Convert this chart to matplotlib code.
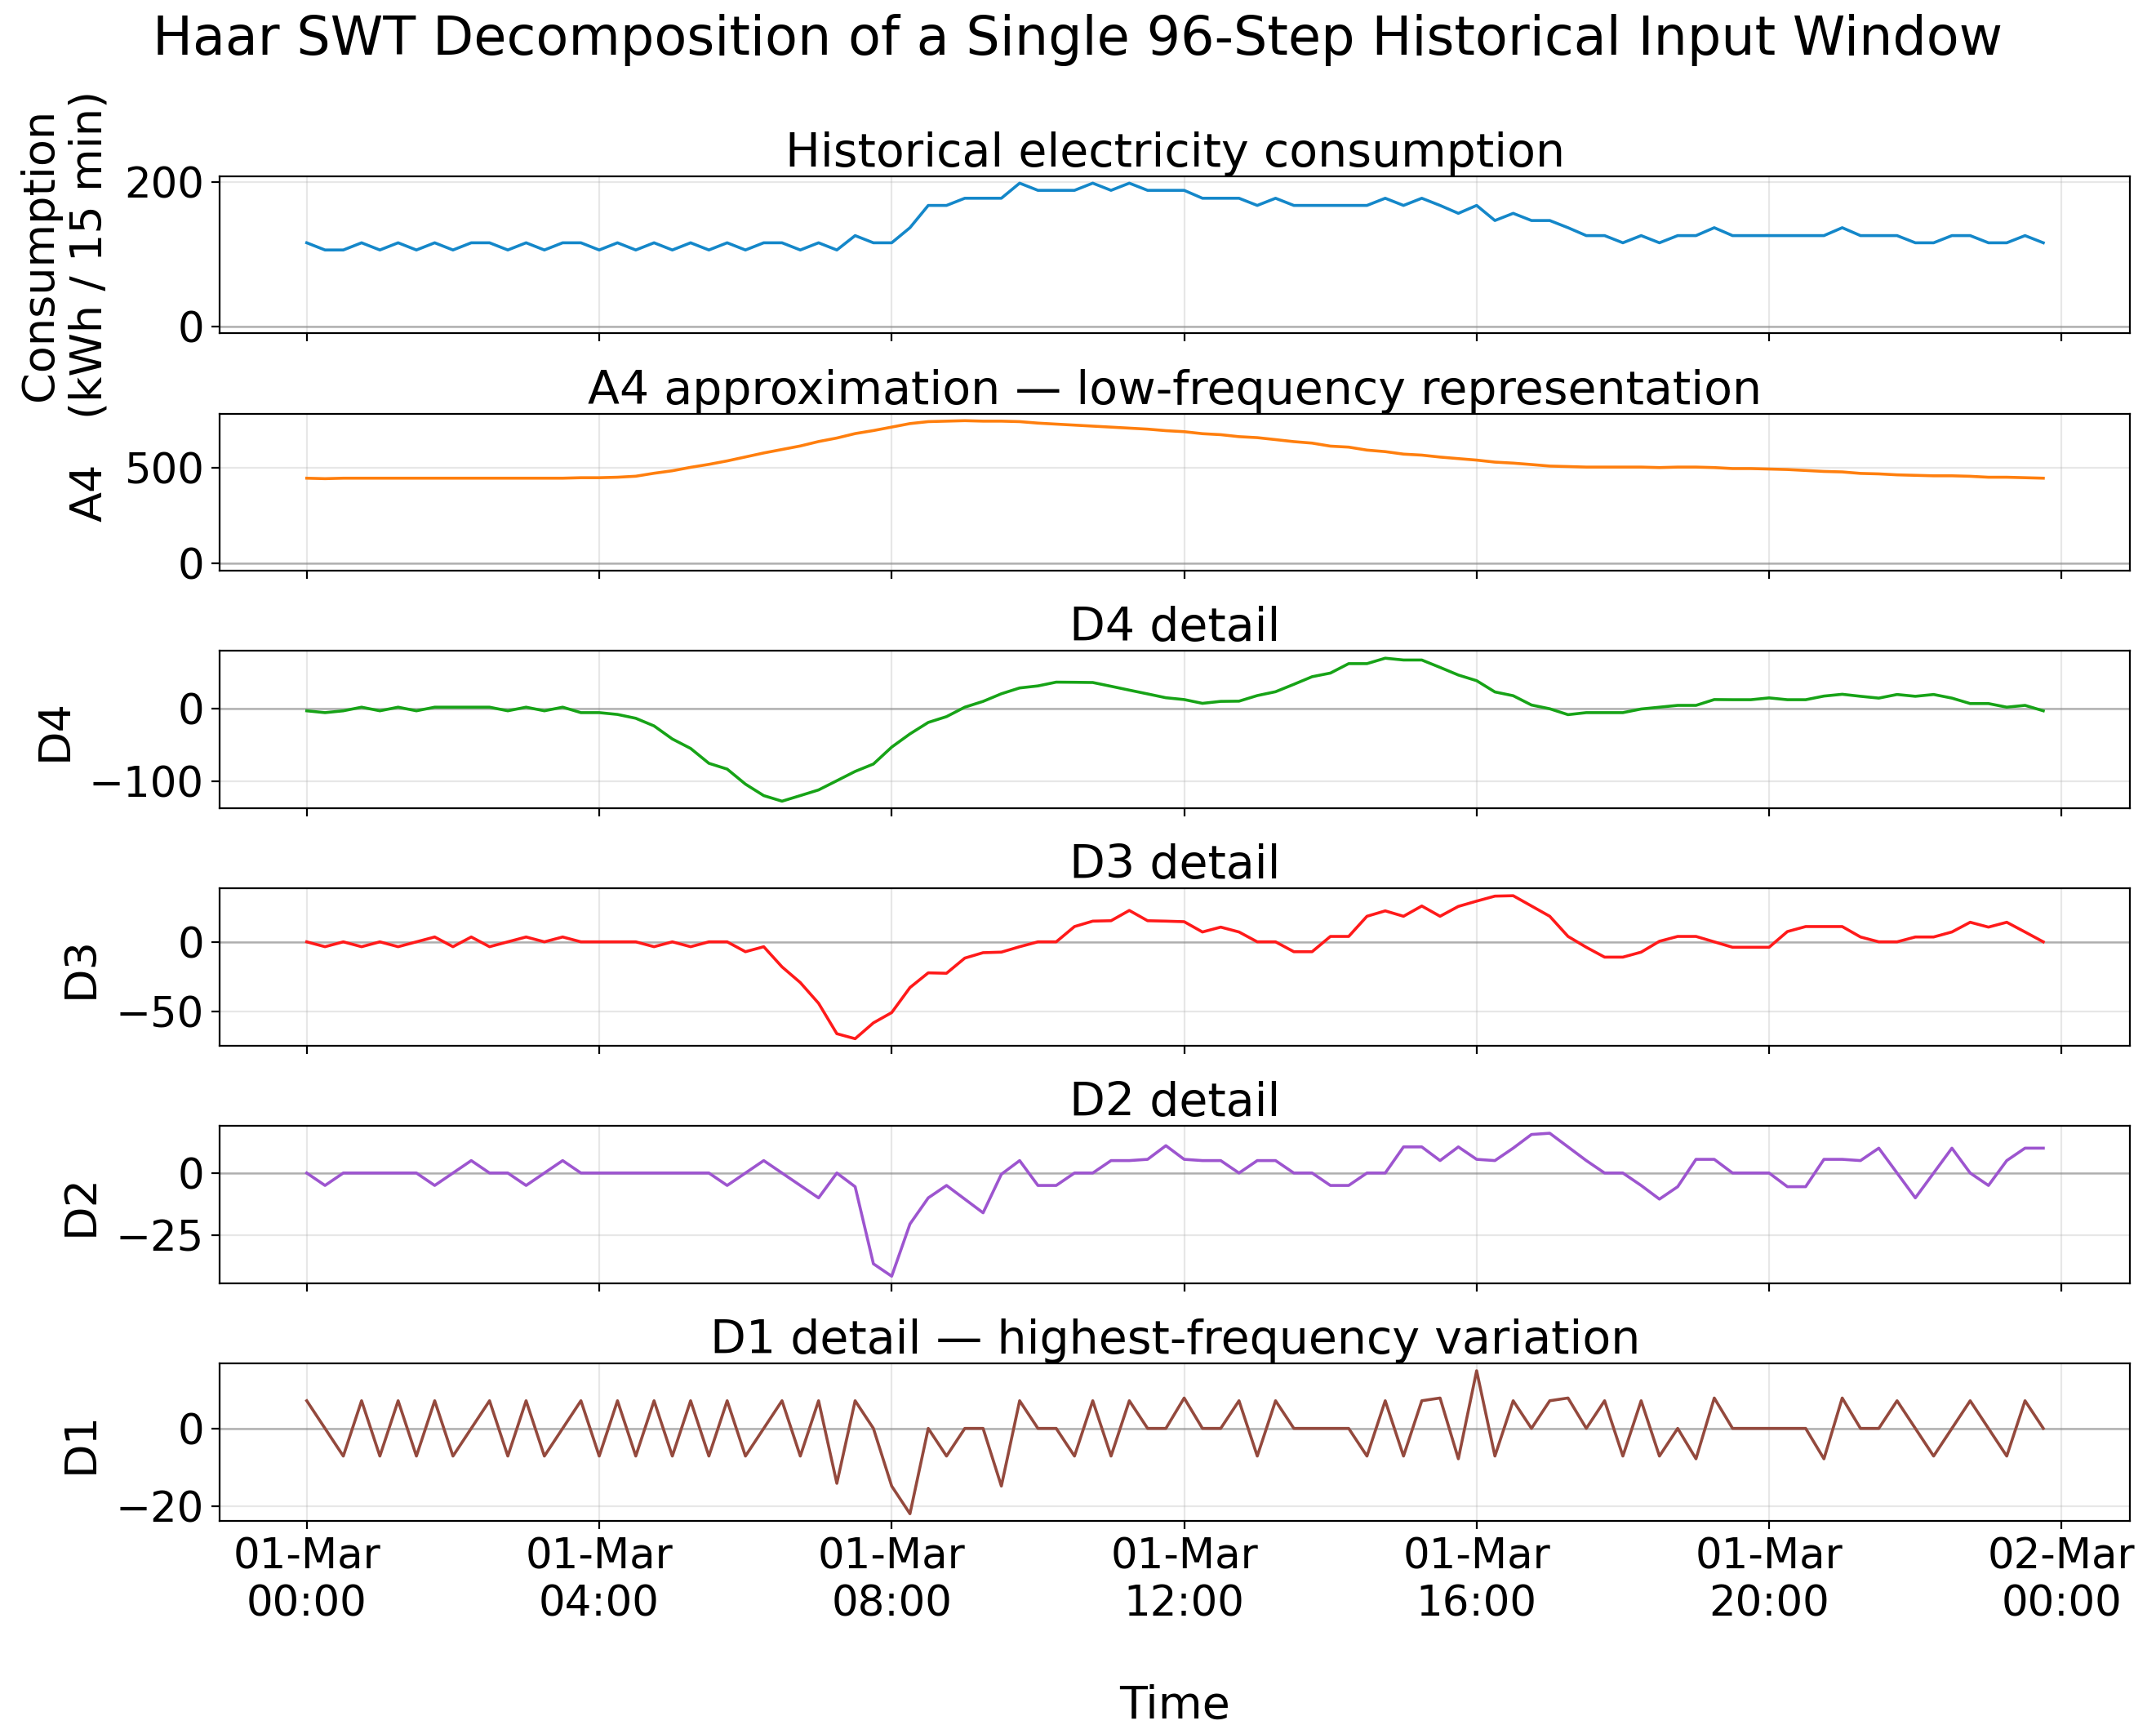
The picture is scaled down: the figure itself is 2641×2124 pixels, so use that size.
import numpy as np
import pandas as pd
import matplotlib
matplotlib.use("Agg")
import matplotlib.pyplot as plt
import matplotlib.dates as mdates

# 96 quarter-hour steps of 01-Mar
times = pd.date_range("2024-03-01 00:00", periods=96, freq="15min")

consumption = [
    116, 106, 106, 116, 106, 116, 106, 116, 106, 116,
    116, 106, 116, 106, 116, 116, 106, 116, 106, 116,
    106, 116, 106, 116, 106, 116, 116, 106, 116, 106,
    126, 116, 116, 137, 168, 168, 178, 178, 178, 199,
    189, 189, 189, 199, 189, 199, 189, 189, 189, 178,
    178, 178, 168, 178, 168, 168, 168, 168, 168, 178,
    168, 178, 168, 157, 168, 147, 157, 147, 147, 137,
    126, 126, 116, 126, 116, 126, 126, 137, 126, 126,
    126, 126, 126, 126, 137, 126, 126, 126, 116, 116,
    126, 126, 116, 116, 126, 116]

a4 = [
    446.5, 444.0, 446.5, 446.5, 446.5, 446.5, 446.5, 446.5, 446.5, 446.5,
    446.5, 446.5, 446.5, 446.5, 446.5, 449.0, 449.0, 451.5, 456.8, 472.3,
    485.3, 503.3, 518.8, 536.8, 557.5, 578.3, 596.5, 614.8, 638.0, 656.3,
    679.5, 695.3, 713.5, 731.8, 742.0, 744.5, 747.0, 744.5, 744.5, 742.0,
    734.3, 729.0, 723.8, 718.5, 713.3, 708.0, 702.8, 694.8, 689.5, 679.0,
    673.8, 663.5, 658.3, 648.0, 637.5, 629.8, 614.0, 608.8, 593.3, 585.3,
    572.3, 567.0, 556.8, 548.8, 541.0, 530.5, 525.3, 517.8, 509.8, 507.3,
    504.5, 504.5, 504.5, 504.5, 502.0, 504.5, 504.5, 502.0, 496.8, 496.8,
    494.3, 491.8, 486.8, 481.8, 479.3, 471.5, 469.0, 464.0, 461.5, 459.0,
    459.0, 456.5, 451.5, 451.5, 449.0, 446.5]

d4 = [
    -2.5, -5.0, -2.5, 2.5, -2.5, 2.5, -2.5, 2.5, 2.5, 2.5,
    2.5, -2.5, 2.5, -2.5, 2.5, -5.0, -5.0, -7.5, -12.8, -23.3,
    -41.3, -54.3, -74.8, -82.8, -103.5, -119.3, -127.0, -119.3, -111.5, -98.8,
    -86.0, -75.8, -52.5, -34.3, -18.5, -10.5, 2.5, 10.5, 21.0, 29.0,
    31.8, 37.0, 36.8, 36.5, 31.3, 26.0, 20.8, 15.5, 13.0, 7.8,
    10.5, 10.8, 18.5, 23.8, 34.0, 44.5, 49.5, 62.5, 62.5, 70.0,
    67.5, 67.5, 57.3, 46.8, 39.0, 23.5, 18.3, 5.5, 0.3, -7.8,
    -5.0, -5.0, -5.0, 0.0, 2.5, 5.0, 5.0, 13.0, 12.8, 12.8,
    15.3, 12.8, 12.8, 17.8, 20.3, 17.5, 15.0, 20.0, 17.5, 20.0,
    15.0, 7.5, 7.5, 2.5, 5.0, -2.5]

d3 = [
    0.0, -3.5, 0.0, -3.5, 0.0, -3.5, 0.0, 3.5, -3.5, 3.5,
    -3.5, 0.0, 3.5, 0.0, 3.5, 0.0, 0.0, 0.0, 0.0, -3.5,
    0.0, -3.5, 0.0, 0.0, -7.1, -3.5, -18.0, -29.3, -44.2, -66.1,
    -69.7, -58.3, -50.9, -32.9, -22.3, -22.6, -11.7, -7.8, -7.4, -3.5,
    0.0, 0.0, 11.0, 14.9, 15.2, 22.6, 15.2, 14.9, 14.5, 7.1,
    10.6, 7.1, 0.0, 0.0, -7.1, -7.1, 3.9, 3.9, 18.4, 22.3,
    18.4, 25.8, 18.4, 25.5, 29.3, 32.9, 33.2, 25.8, 18.4, 3.9,
    -3.9, -11.0, -11.0, -7.4, 0.4, 3.9, 3.9, 0.0, -3.9, -3.9,
    -3.9, 7.4, 11.0, 11.0, 11.0, 3.5, 0.0, 0.0, 3.5, 3.5,
    7.1, 14.1, 10.6, 14.1, 7.1, 0.0]

d2 = [
    0.0, -5.0, 0.0, 0.0, 0.0, 0.0, 0.0, -5.0, 0.0, 5.0,
    0.0, 0.0, -5.0, 0.0, 5.0, 0.0, 0.0, 0.0, 0.0, 0.0,
    0.0, 0.0, 0.0, -5.0, 0.0, 5.0, 0.0, -5.0, -10.0, 0.0,
    -5.5, -36.5, -41.5, -20.5, -10.0, -5.0, -10.5, -16.0, -0.5, 5.0,
    -5.0, -5.0, 0.0, 0.0, 5.0, 5.0, 5.5, 11.0, 5.5, 5.0,
    5.0, 0.0, 5.0, 5.0, 0.0, 0.0, -5.0, -5.0, 0.0, 0.0,
    10.5, 10.5, 5.0, 10.5, 5.5, 5.0, 10.0, 15.5, 16.0, 10.5,
    5.0, 0.0, 0.0, -5.0, -10.5, -5.5, 5.5, 5.5, 0.0, 0.0,
    0.0, -5.5, -5.5, 5.5, 5.5, 5.0, 10.0, 0.0, -10.0, 0.0,
    10.0, 0.0, -5.0, 5.0, 10.0, 10.0]

d1 = [
    7.1, 0.0, -7.1, 7.1, -7.1, 7.1, -7.1, 7.1, -7.1, 0.0,
    7.1, -7.1, 7.1, -7.1, 0.0, 7.1, -7.1, 7.1, -7.1, 7.1,
    -7.1, 7.1, -7.1, 7.1, -7.1, 0.0, 7.1, -7.1, 7.1, -14.1,
    7.1, 0.0, -14.8, -21.9, 0.0, -7.1, 0.0, 0.0, -14.8, 7.1,
    0.0, 0.0, -7.1, 7.1, -7.1, 7.1, 0.0, 0.0, 7.8, 0.0,
    0.0, 7.1, -7.1, 7.1, 0.0, 0.0, 0.0, 0.0, -7.1, 7.1,
    -7.1, 7.1, 7.8, -7.8, 14.8, -7.1, 7.1, 0.0, 7.1, 7.8,
    0.0, 7.1, -7.1, 7.1, -7.1, 0.0, -7.8, 7.8, 0.0, 0.0,
    0.0, 0.0, 0.0, -7.8, 7.8, 0.0, 0.0, 7.1, 0.0, -7.1,
    0.0, 7.1, 0.0, -7.1, 7.1, 0.0]

panel_series = [consumption, a4, d4, d3, d2, d1]
panel_titles = [
    "Historical electricity consumption",
    "A4 approximation \u2014 low-frequency representation",
    "D4 detail",
    "D3 detail",
    "D2 detail",
    "D1 detail \u2014 highest-frequency variation",
]
panel_ylabels = ["Consumption\n(kWh / 15 min)", "A4", "D4", "D3", "D2", "D1"]
panel_yticks = [[0, 200], [0, 500], [-100, 0], [-50, 0], [-25, 0], [-20, 0]]
panel_colors = ["#1487c9", "#ff7f0e", "#17a317", "#ff1a1a", "#9d55cf", "#94493d"]

fig, axes = plt.subplots(6, 1, figsize=(13.205, 10.62), dpi=200, sharex=True)
fig.subplots_adjust(left=0.102, right=0.988, top=0.8985, bottom=0.1229, hspace=0.51)

for ax, vals, title, ylab, yt, col in zip(axes, panel_series, panel_titles,
                                          panel_ylabels, panel_yticks, panel_colors):
    ax.axhline(0, color="gray", lw=0.9, alpha=0.55)
    ax.plot(times, vals, color=col, lw=1.3)
    ax.set_title(title, fontsize=20.5, pad=3)
    ax.set_ylabel(ylab, fontsize=19.5, labelpad=6)
    ax.set_yticks(yt)
    ax.tick_params(labelsize=18.5)
    ax.grid(True, alpha=0.3)

axes[-1].xaxis.set_major_locator(mdates.HourLocator(byhour=range(0, 24, 4)))
axes[-1].xaxis.set_major_formatter(mdates.DateFormatter("%d-%b\n%H:%M"))
axes[-1].set_xlabel("Time", fontsize=20, labelpad=26)

fig.suptitle("Haar SWT Decomposition of a Single 96-Step Historical Input Window",
             fontsize=23.5, y=0.992, va="top")

fig.savefig("out.png", dpi=200)
